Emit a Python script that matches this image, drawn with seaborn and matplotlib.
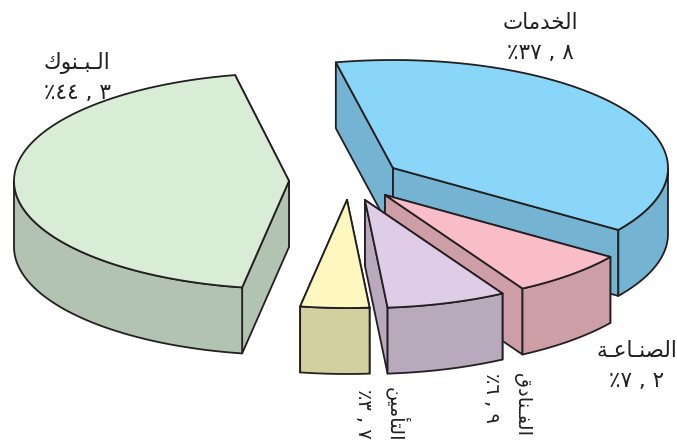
import numpy as np
import matplotlib
matplotlib.use("Agg")
import matplotlib.pyplot as plt
import seaborn as sns

# values in percent, clockwise from the back of the pie
sectors = ["services", "industry", "hotels", "insurance", "banks"]
shares = [37.8, 7.2, 6.9, 3.7, 44.3]

# Arabic names in presentation forms, visual order (matplotlib does no shaping)
name_services = "\ufe95\ufe8e\ufee3\ufeaa\ufea8\ufedf\ufe8d"
name_industry = "\ufe94\u0640\ufecb\ufe8e\u0640\ufee8\ufebc\ufedf\ufe8d"
name_hotels = "\ufed5\ufea9\ufe8e\ufee8\u0640\ufed4\ufedf\ufe8d"
name_insurance = "\ufee6\ufef4\ufee3\ufe84\ufe98\ufedf\ufe8d"
name_banks = "\ufed9\ufeee\ufee8\u0640\ufe92\u0640\ufedf\ufe8d"

pct_services = "\u066a\u0663\u0667 , \u0668"
pct_industry = "\u066a\u0667 , \u0662"
pct_hotels = "\u066a\u0666 , \u0669"
pct_insurance = "\u066a\u0663 , \u0667"
pct_banks = "\u066a\u0664\u0664 , \u0663"

# layout of the exploded pie, in pixels
apex = [(393, 168), (385, 195), (365, 200), (347, 200), (289, 181)]
# the drawn slices are not quite true to their shares, degrees added per slice
span_adjust = [0.9, -0.9, 0.45, 1.2, -0.6]
top_colors = ["#8AD6F8", "#F8BDC6", "#DFCCE6", "#FEF8C0", "#D9EDD6"]
wall_colors = ["#74B4D2", "#CE9EA6", "#B8A9BD", "#D4CF9F", "#B2C3B1"]
rx, ry, depth = 275, 108, 66
start_angle = 102
line_color = "#231F20"
line_width = 1.3

sns.set_theme(style="white")
plt.rcParams["font.family"] = ["DejaVu Sans"]

fig = plt.figure(figsize=(6.77, 4.43), dpi=100)
ax = fig.add_axes([0, 0, 1, 1])

z = 1


def face(xs, ys, color):
    # one filled face with its outline
    global z
    xs = np.append(xs, xs[0])
    ys = np.append(ys, ys[0])
    ax.fill(xs, ys, color=color, lw=0, zorder=z)
    sns.lineplot(x=xs, y=ys, sort=False, estimator=None, color=line_color,
                 lw=line_width, zorder=z + 0.5, ax=ax, legend=False,
                 solid_joinstyle="round")
    z += 1


angle = start_angle
for share, extra, (cx, cy), top, wall in zip(shares, span_adjust, apex, top_colors, wall_colors):
    end = angle - share * 3.6 - extra
    t = np.radians(np.linspace(angle, end, 120))
    ax_x = cx + rx * np.cos(t)
    ax_y = cy - ry * np.sin(t)

    # side walls, the upper one first
    ends = sorted([(ax_x[0], ax_y[0]), (ax_x[-1], ax_y[-1])], key=lambda p: p[1])
    for ex, ey in ends:
        face(np.array([cx, ex, ex, cx]), np.array([cy, ey, ey + depth, cy + depth]), wall)

    # outer wall, only the part facing the viewer
    front = np.sin(t) <= 0
    if front.any():
        fx, fy = ax_x[front], ax_y[front]
        face(np.r_[fx, fx[::-1]], np.r_[fy, fy[::-1] + depth], wall)

    # top of the slice
    face(np.r_[cx, ax_x], np.r_[cy, ax_y], top)
    angle = end

txt = dict(color="#231F20", fontsize=15.5, ha="center", va="center", zorder=100)
ax.text(540, 23, name_services, **txt)
ax.text(540, 53, pct_services, **txt)
ax.text(77, 63, name_banks, **txt)
ax.text(77, 93, pct_banks, **txt)
ax.text(637, 351, name_industry, **txt)
ax.text(637, 381, pct_industry, **txt)

rot = dict(color="#231F20", fontsize=14, ha="center", va="top", rotation=-90, zorder=100)
ax.text(491, 373, pct_hotels, **rot)
ax.text(522, 373, name_hotels, **rot)
ax.text(364, 389, pct_insurance, **rot)
ax.text(397, 387, name_insurance, **rot)

ax.set_xlim(0, 677)
ax.set_ylim(443, 0)
ax.set_xlabel("")
ax.set_ylabel("")
ax.axis("off")

fig.savefig("out.png", dpi=100)
